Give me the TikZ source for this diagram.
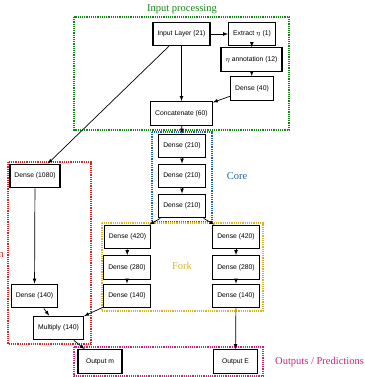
\documentclass[tikz,border=0pt]{standalone}
\usepackage{fontspec}
\setmainfont{Liberation Serif}
\newfontfamily\boxfont{Liberation Sans}
\definecolor{ipgreen}{RGB}{20,135,20}
\definecolor{coreblue}{RGB}{30,100,165}
\definecolor{forkgold}{RGB}{215,180,35}
\definecolor{skipred}{RGB}{205,40,40}
\definecolor{outpink}{RGB}{205,35,125}
\begin{document}
\begin{tikzpicture}[
    x=1pt, y=-1pt,
    layer/.style={rectangle, draw, line width=1.3pt, minimum height=23.5pt, minimum width=42pt, inner xsep=4.5pt, font=\boxfont\fontsize{6.8}{8}\selectfont},
    link/.style={draw, -latex, line width=0.7pt},
    frame/.style={densely dotted, line width=1.2pt},
    tag/.style={font=\fontsize{10.5}{12}\selectfont}
]
    \useasboundingbox (0,0) rectangle (364,377);

    % dotted group frames
    \draw[frame, ipgreen] (74,17) rectangle (289,130);
    \draw[frame, coreblue] (152,132) rectangle (212,222);
    \draw[frame, forkgold] (102,223) rectangle (263,311);
    \draw[frame, skipred] (8,162) rectangle (91,344);
    \draw[frame, outpink] (74,347) rectangle (263,376);

    \node[tag, ipgreen] (tin) at (182,9) {Input processing};
    \node[tag, coreblue] (tcore) at (237,176) {Core};
    \node[tag, forkgold] (tfork) at (182,266) {Fork};
    \node[tag, outpink, anchor=west, inner xsep=0pt] (tout) at (275,362) {Outputs / Predictions};
    \node[tag, skipred, anchor=base east, inner xsep=0pt] (tskip) at (4,257) {n};

    % input processing
    \node[layer] (in) at (181.5,34) {Input Layer (21)};
    \node[layer] (ext) at (252,34) {Extract $\eta$ (1)};
    \node[layer] (ann) at (251.5,59.5) {$\eta$ annotation (12)};
    \node[layer] (d40) at (252,88.5) {Dense (40)};
    \node[layer] (cat) at (181.5,113.5) {Concatenate (60)};

    % core
    \node[layer] (c1) at (182,146) {Dense (210)};
    \node[layer] (c2) at (182,176) {Dense (210)};
    \node[layer] (c3) at (182,206) {Dense (210)};

    % fork
    \node[layer] (l420) at (127.5,237) {Dense (420)};
    \node[layer] (l280) at (127,267.5) {Dense (280)};
    \node[layer] (l140) at (127,296) {Dense (140)};
    \node[layer] (r420) at (236,237) {Dense (420)};
    \node[layer] (r280) at (236,267.5) {Dense (280)};
    \node[layer] (r140) at (236,296) {Dense (140)};

    % side branch
    \node[layer] (d1080) at (35,176) {Dense (1080)};
    \node[layer] (s140) at (34.5,296) {Dense (140)};
    \node[layer] (mul) at (58.5,328) {Multiply (140)};

    % outputs
    \node[layer, minimum width=44pt] (outm) at (100,361.5) {Output m};
    \node[layer, minimum width=44pt] (outE) at (235.5,361.5) {Output E};

    \draw[link] (in) -- (ext);
    \draw[link] (ext) -- (ann);
    \draw[link] (ann) -- (d40);
    \draw[link] (d40) -- (cat);
    \draw[link] (in) -- (cat);
    \draw[link] (in) -- (d1080);
    \draw[link] (cat) -- (c1);
    \draw[link] (c1) -- (c2);
    \draw[link] (c2) -- (c3);
    \draw[link] (c3) -- (l420);
    \draw[link] (c3) -- (r420);
    \draw[link] (l420) -- (l280);
    \draw[link] (l280) -- (l140);
    \draw[link] (r420) -- (r280);
    \draw[link] (r280) -- (r140);
    \draw[link] (d1080) -- (s140);
    \draw[link] (s140) -- (mul);
    \draw[link] (l140) -- (mul);
    \draw[link] (mul) -- (outm);
    \draw[link] (r140) -- (outE);
\end{tikzpicture}
\end{document}
